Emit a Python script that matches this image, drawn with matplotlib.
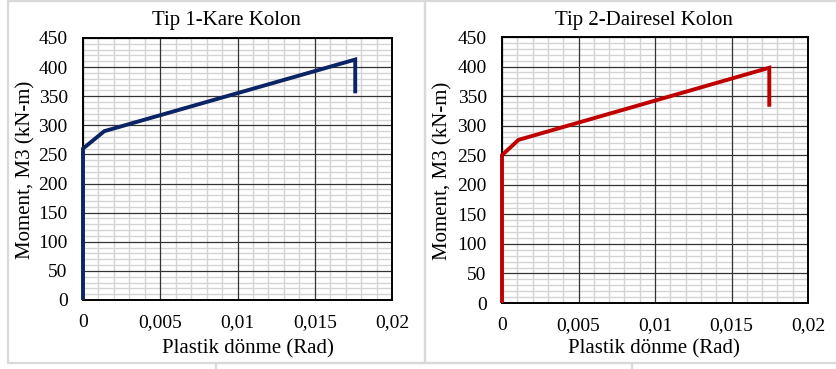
import matplotlib
matplotlib.use("Agg")
import matplotlib.pyplot as plt
from matplotlib.patches import Rectangle

plt.rcParams['font.family'] = ['Liberation Serif', 'DejaVu Serif']

# Data
rot1 = [0.0, 0.0, 0.00138, 0.01762, 0.01762]
mom1 = [0, 260, 290, 413, 355]
rot2 = [0.0, 0.0, 0.00108, 0.01747, 0.01747]
mom2 = [0, 250, 276, 398, 332]

titles = ["Tip 1-Kare Kolon", "Tip 2-Dairesel Kolon"]
xlabel = "Plastik dönme (Rad)"
ylabel = "Moment, M3 (kN-m)"
xticks = [0, 0.005, 0.01, 0.015, 0.02]
xticklabels = ["0", "0,005", "0,01", "0,015", "0,02"]
yticks = list(range(0, 451, 50))
xminor = [k * 0.001 for k in range(21) if k % 5 != 0]
yminor = [k for k in range(0, 451, 10) if k % 50 != 0]
colors = ["#0b2466", "#c00000"]

W, H = 836, 369
fig = plt.figure(figsize=(W / 100, H / 100), dpi=100)

def fx(px):
    return px / W

def fy(py):
    return 1 - py / H

# panel borders
border = "#d9d9d9"
for (x0, y0, x1, y1) in [(8, 1, 424.5, 363), (424.5, 1, 840, 363), (216, 363, 632, 372)]:
    fig.add_artist(Rectangle((fx(x0), fy(y1)), fx(x1) - fx(x0), fy(y0) - fy(y1),
                             transform=fig.transFigure, fill=False,
                             edgecolor=border, linewidth=1.6, zorder=0))

axes_px = [(83, 38, 392, 300), (502, 37, 808, 303)]
title_pos = [(226, 25), (644, 25)]
xlabel_pos = [(247.5, 349), (653.5, 349)]
ylabel_pos = [(26, 170), (443, 171)]
data = [(rot1, mom1), (rot2, mom2)]

for i in range(2):
    l, t, r, b = axes_px[i]
    ax = fig.add_axes([fx(l), fy(b), fx(r) - fx(l), fy(t) - fy(b)])
    x, y = data[i]
    ax.set_xlim(0, 0.02)
    ax.set_ylim(0, 450)
    ax.set_xticks(xticks)
    ax.set_xticklabels(xticklabels)
    ax.set_yticks(yticks)
    ax.set_xticks(xminor, minor=True)
    ax.set_yticks(yminor, minor=True)
    for v in xminor:
        ax.axvline(v, color='#d4d4d4', linewidth=1.0, zorder=1)
    for v in yminor:
        ax.axhline(v, color='#d4d4d4', linewidth=1.0, zorder=1)
    for v in xticks:
        ax.axvline(v, color='#333333', linewidth=0.9, zorder=2)
    for v in yticks:
        ax.axhline(v, color='#333333', linewidth=0.9, zorder=2)
    ax.plot(x, y, color=colors[i], linewidth=2.8, zorder=6, clip_on=False,
            solid_joinstyle='miter', solid_capstyle='butt')
    ax.tick_params(which='both', length=0)
    ax.tick_params(axis='x', labelsize=14, pad=10)
    ax.tick_params(axis='y', labelsize=14, pad=11)
    for sp in ax.spines.values():
        sp.set_color('black')
        sp.set_linewidth(1.4)
        sp.set_zorder(5)
    fig.text(fx(title_pos[i][0]), fy(title_pos[i][1]), titles[i], fontsize=15,
             ha='center', va='baseline')
    fig.text(fx(xlabel_pos[i][0]), fy(xlabel_pos[i][1]), xlabel, fontsize=15,
             ha='center', va='center')
    fig.text(fx(ylabel_pos[i][0]), fy(ylabel_pos[i][1]), ylabel, fontsize=15,
             ha='center', va='center', rotation=90)

fig.savefig("out.png", dpi=100)
